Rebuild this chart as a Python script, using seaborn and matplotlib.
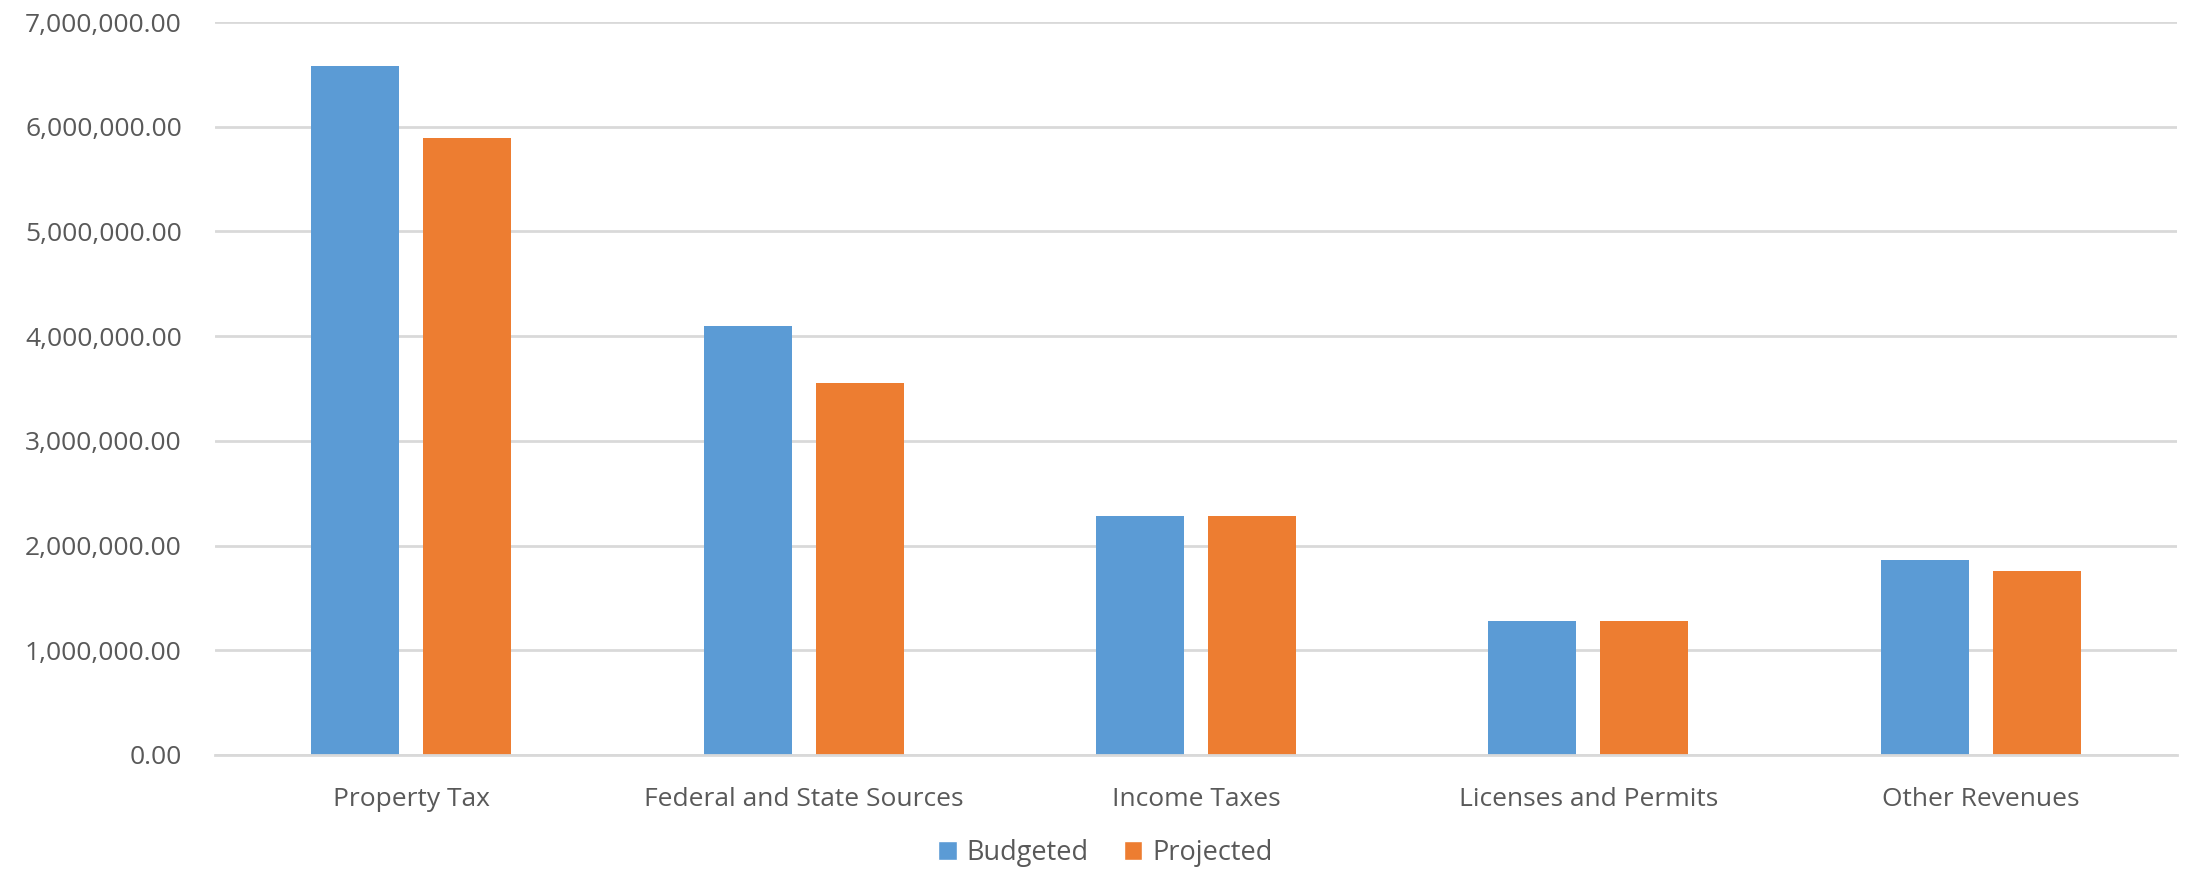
import seaborn as sns
import pandas as pd
import matplotlib.pyplot as plt
from matplotlib.ticker import FuncFormatter, MultipleLocator
from matplotlib.patches import Patch

# Data
categories = ["Property Tax", "Federal and State Sources", "Income Taxes",
              "Licenses and Permits", "Other Revenues"]
budgeted = [6577000, 4098000, 2285000, 1284000, 1861000]
projected = [5896000, 3556000, 2285000, 1284000, 1756000]
series = ["Budgeted", "Projected"]
colors = ["#5B9BD5", "#ED7D31"]

df = pd.DataFrame({"category": categories, "Budgeted": budgeted, "Projected": projected})
df_long = df.melt(id_vars="category", value_vars=series, var_name="series", value_name="value")

sns.set_theme(style="white")
plt.rcParams['font.family'] = ['Open Sans', 'DejaVu Sans']
text_color = "#595959"

fig = plt.figure(figsize=(21.86, 8.71), dpi=100)
ax = fig.add_axes([0.0984, 0.1332, 0.8975, 0.8415])

sns.barplot(data=df_long, x="category", y="value", hue="series", order=categories,
            hue_order=series, palette=colors, width=0.571, gap=0.214, ax=ax,
            legend=False, saturation=1, linewidth=0)

ax.set_ylim(0, 7000000)
ax.set_xlim(-0.5, len(categories) - 0.5)
ax.yaxis.set_major_locator(MultipleLocator(1000000))
ax.yaxis.set_major_formatter(FuncFormatter(lambda v, p: f"{v:,.2f}"))
ax.grid(axis="y", color="#D9D9D9", linewidth=2)
ax.set_axisbelow(True)
for s in ["top", "right", "left"]:
    ax.spines[s].set_visible(False)
ax.spines["bottom"].set_color("#D9D9D9")
ax.spines["bottom"].set_linewidth(2)
ax.tick_params(axis="y", length=0, pad=24, labelsize=19, labelcolor=text_color)
ax.tick_params(axis="x", length=0, pad=23, labelsize=19, labelcolor=text_color)
ax.set_xlabel("")
ax.set_ylabel("")

handles = [Patch(facecolor=c, label=l) for c, l in zip(colors, series)]
fig.legend(handles=handles, loc="center", bbox_to_anchor=(0.5055, 0.0207), ncol=2,
           frameon=False, fontsize=19.5, labelcolor=text_color, handlelength=0.7,
           handleheight=0.7, handletextpad=0.35, columnspacing=1.3)

fig.savefig("out.png", dpi=100)
